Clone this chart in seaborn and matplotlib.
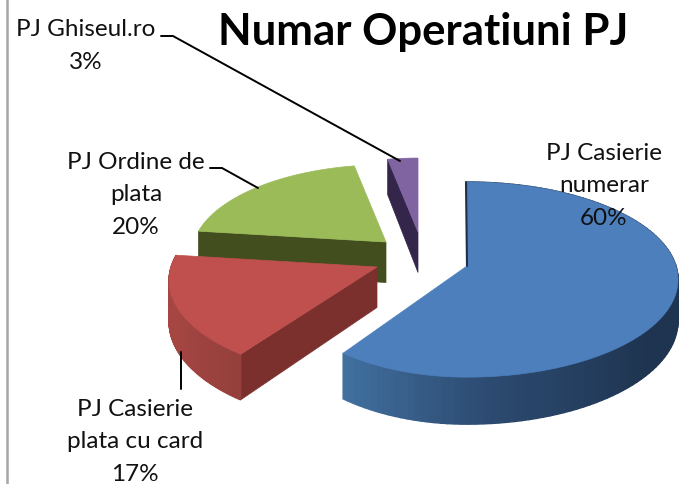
import numpy as np
import matplotlib
matplotlib.use('Agg')
import matplotlib.pyplot as plt
import seaborn as sns

# Chart values
slices = ['PJ Casierie\nnumerar', 'PJ Casierie\nplata cu card', 'PJ Ordine de\nplata', 'PJ Ghiseul.ro']
shares = [60, 17, 20, 3]
title = 'Numar Operatiuni PJ'

# Look of the slices, same order as above
top_colors = ['#4c7fbc', '#bf504d', '#9bbb59', '#8064a2']
edge_colors = ['#1c3049', '#7c302e', '#434e1f', '#33264a']
arc_colors = [['#1f344f', '#1f344f', '#1e3450', '#1e3450', '#2b486e', '#41709f'],
              ['#95403c', '#a64643', '#a64643'], None, None]
apex_x = [467, 377, 386, 418]
apex_y = [267, 268, 243, 233]
left_squeeze = [0.895, 0.985, 1, 1]
far_scale = [1, 1, 0.92, 0.88]
label_pos = [(604, 186), (135, 442), (136, 195), (86, 46)]

# Perspective of the pie plane, in pixels
R, H, k, depth = 209, 95.7, 0.139, 40.5

sns.set_theme(style='white')
plt.rcParams['font.family'] = ['Lato', 'DejaVu Sans']

fig = plt.figure(figsize=(6.79, 4.85), dpi=100)
ax = fig.add_axes([0, 0, 1, 1])
ax.set_xlim(0, 679)
ax.set_ylim(485, 0)
ax.axis('off')


def project(i, deg):
    # map a point of the pie plane on the picture, returns x, y and the height of the side
    X = np.cos(np.radians(deg))
    Y = np.sin(np.radians(deg))
    s = 1 / (1 + k * Y)
    squeeze = np.where(X < 0, left_squeeze[i], 1.0)
    return (apex_x[i] + R * far_scale[i] * X * s * squeeze,
            apex_y[i] - H * far_scale[i] * Y * s,
            depth * s)


# slice angles come from the shares, clockwise from 12 o'clock
ends = 90 - np.cumsum(shares) * 3.6
starts = ends + np.array(shares) * 3.6

for i in [3, 2, 1, 0]:
    angles = np.linspace(starts[i], ends[i], 120)
    x, y, h = project(i, angles)

    # radial side facing the viewer
    if i in (1, 2, 3):
        ax.fill([apex_x[i], x[0], x[0], apex_x[i]],
                [apex_y[i], y[0], y[0] + h[0], apex_y[i] + depth], color=edge_colors[i], lw=0.5)

    # outer rim, shaded piece by piece
    if arc_colors[i] is not None:
        shades = sns.blend_palette(arc_colors[i], len(angles) - 1)
        for j in range(len(angles) - 1):
            ax.fill([x[j], x[j + 1], x[j + 1], x[j]],
                    [y[j], y[j + 1], y[j + 1] + h[j + 1], y[j] + h[j]],
                    color=shades[j], lw=1.0)

    # top face
    ax.fill(np.r_[apex_x[i], x], np.r_[apex_y[i], y], color=top_colors[i], lw=0.5)

    if i == 0:
        ax.plot([x[0] - 1, apex_x[i]], [y[0], apex_y[i]], color=edge_colors[i], lw=1.5)

# leader lines
ax.plot([161, 173, 400], [37, 37, 162], color='black', lw=1.4)
ax.plot([210, 222, 258], [169, 169, 189], color='black', lw=1.4)
ax.plot([181, 181], [353, 390], color='black', lw=1.4)

# labels
for name, share, (lx, ly) in zip(slices, shares, label_pos):
    ax.text(lx, ly, f'{name}\n{share}%', ha='center', va='center', fontsize=17.5,
            linespacing=1.65, color='#111111')

ax.text(423, 32, title, ha='center', va='center', fontsize=31.5, fontweight='bold', color='black')
ax.axvline(7, color='#a6a6a6', lw=1.8)

fig.savefig('out.png', dpi=100)
